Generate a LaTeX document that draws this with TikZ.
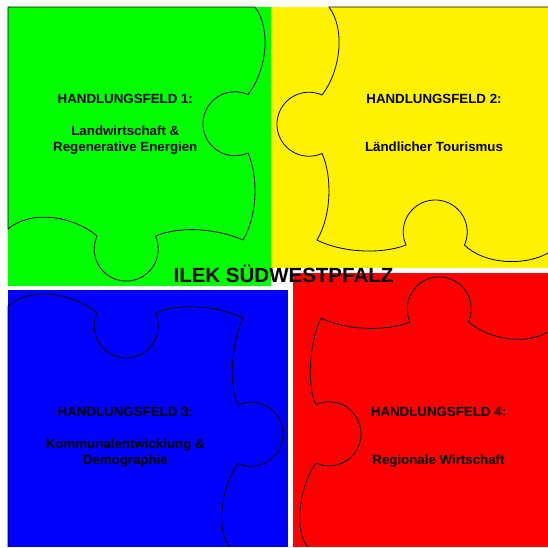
\documentclass[tikz,border=0pt]{standalone}
\usepackage{fontspec}
\setmainfont{Liberation Sans}
\usepackage{tikz}

\begin{document}
\begin{tikzpicture}[
    x=1pt, y=1pt,
    piece/.style={draw=black, line width=0.8pt},
    field/.style={font=\fontsize{13.3}{16}\selectfont\bfseries, align=center, anchor=base, inner sep=0pt},
    heading/.style={font=\fontsize{20.5}{24}\selectfont\bfseries, anchor=base, inner sep=0pt}
  ]
    \useasboundingbox (0,0) rectangle (548,-547);
    % Hintergrundflaechen
    \fill[green]  (8,-7)    rectangle (271,-286);
    \fill[yellow] (271,-7)  rectangle (548,-268);
    \fill[blue]   (8,-290)  rectangle (288,-547);
    \fill[red]    (293,-273) rectangle (548,-547);
    % Puzzleteile
    \draw[piece] (255,-7) -- (8,-7) -- (8,-229)
      .. controls (30,-210) and (72,-215) .. (97,-236)
      arc[start angle=156, end angle=384, radius=32]
      .. controls (180,-226) and (215,-228) .. (243,-240)
      .. controls (258,-215) and (258,-175) .. (248,-153)
      arc[start angle=-66, end angle=-294, radius=32]
      .. controls (266,-72) and (272,-30) .. (255,-7);
    \draw[piece] (548,-7) -- (329,-7)
      .. controls (346,-30) and (340,-72) .. (322,-95)
      arc[start angle=66, end angle=294, radius=32]
      .. controls (332,-175) and (332,-215) .. (317,-240)
      .. controls (340,-252) and (380,-255) .. (406,-245)
      arc[start angle=204, end angle=-24, radius=32]
      .. controls (485,-265) and (525,-266) .. (548,-253);
    \draw[piece] (8,-547) -- (8,-306)
      .. controls (30,-287) and (72,-292) .. (97,-313)
      arc[start angle=156, end angle=384, radius=32]
      .. controls (180,-303) and (215,-305) .. (243,-318)
      .. controls (232,-340) and (228,-385) .. (238,-405)
      arc[start angle=114, end angle=-114, radius=32]
      .. controls (222,-485) and (215,-530) .. (230,-547);
    \draw[piece] (308,-547)
      .. controls (293,-530) and (300,-485) .. (316,-463)
      arc[start angle=-114, end angle=114, radius=32]
      .. controls (306,-385) and (310,-340) .. (321,-318)
      .. controls (345,-330) and (385,-332) .. (410,-322)
      arc[start angle=204, end angle=-24, radius=32]
      .. controls (490,-340) and (525,-345) .. (548,-332);
    % Texte
    \node[field] (feld1) at (125.3,-151) {HANDLUNGSFELD 1:\\[16pt]Landwirtschaft \&\\Regenerative Energien};
    \node[field] (feld2) at (434,-151) {HANDLUNGSFELD 2:\\[32pt]Ländlicher Tourismus};
    \node[field] (feld3) at (125.3,-464) {HANDLUNGSFELD 3:\\[16pt]Kommunalentwicklung \&\\Demographie};
    \node[field] (feld4) at (438.5,-464) {HANDLUNGSFELD 4:\\[32pt]Regionale Wirtschaft};
    \node[heading] (titel) at (283.5,-282) {ILEK SÜDWESTPFALZ};
  \end{tikzpicture}
\end{document}
